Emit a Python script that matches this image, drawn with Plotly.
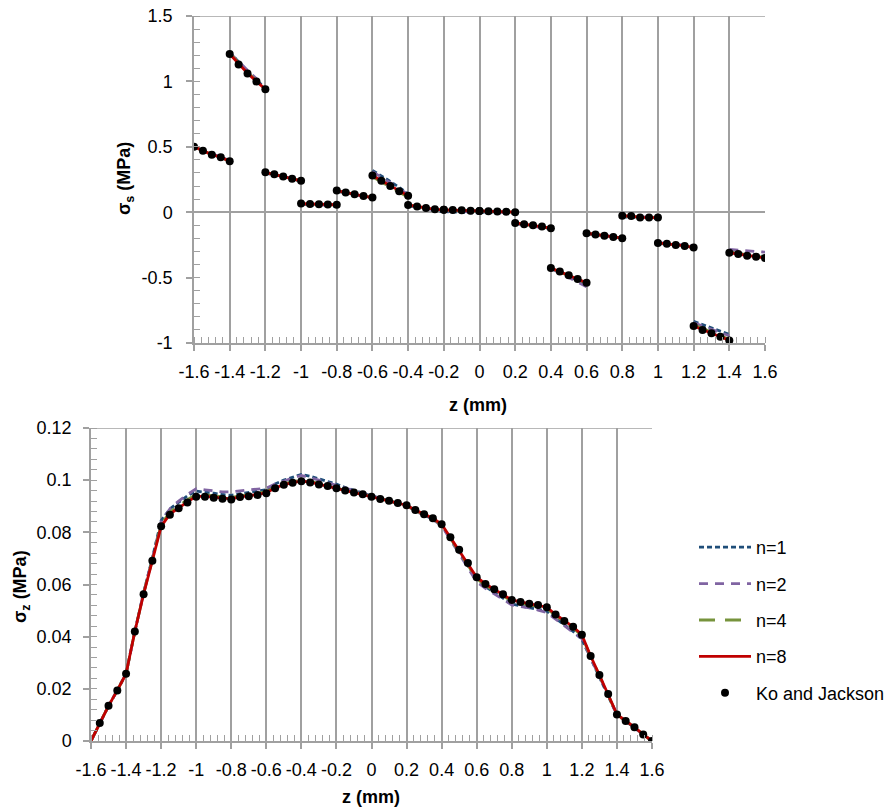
import numpy as np
import plotly.graph_objects as go

# ---------------- data ----------------
# top chart: 16 segments, 5 points each (z step 0.05)
seg_start = [-1.6, -1.4, -1.2, -1.0, -0.8, -0.6, -0.4, -0.2, 0.0, 0.2, 0.4, 0.6, 0.8, 1.0, 1.2, 1.4]
seg_offsets = [0.0, 0.05, 0.10, 0.15, 0.20]

ss_ko = [
    [0.50, 0.47, 0.44, 0.42, 0.39],
    [1.21, 1.13, 1.06, 1.00, 0.94],
    [0.305, 0.29, 0.272, 0.255, 0.24],
    [0.066, 0.063, 0.060, 0.058, 0.057],
    [0.165, 0.15, 0.138, 0.123, 0.112],
    [0.28, 0.24, 0.20, 0.16, 0.125],
    [0.056, 0.043, 0.033, 0.022, 0.018],
    [0.018, 0.016, 0.015, 0.012, 0.010],
    [0.010, 0.008, 0.005, 0.003, 0.0],
    [-0.082, -0.092, -0.100, -0.110, -0.122],
    [-0.426, -0.454, -0.482, -0.510, -0.539],
    [-0.161, -0.171, -0.181, -0.190, -0.199],
    [-0.028, -0.030, -0.040, -0.041, -0.041],
    [-0.235, -0.242, -0.250, -0.258, -0.270],
    [-0.870, -0.900, -0.926, -0.952, -0.980],
    [-0.310, -0.320, -0.332, -0.340, -0.350],
]
ss_n1 = [
    [0.50, 0.47, 0.445, 0.42, 0.39],
    [1.22, 1.15, 1.08, 1.01, 0.95],
    [0.30, 0.285, 0.27, 0.25, 0.235],
    [0.060, 0.056, 0.052, 0.048, 0.045],
    [0.16, 0.147, 0.135, 0.12, 0.11],
    [0.32, 0.28, 0.235, 0.19, 0.14],
    [0.05, 0.035, 0.022, 0.010, 0.005],
    [0.005, 0.0, -0.003, -0.005, -0.006],
    [0.0, -0.004, -0.006, -0.008, -0.010],
    [-0.085, -0.095, -0.105, -0.112, -0.125],
    [-0.43, -0.46, -0.49, -0.52, -0.55],
    [-0.165, -0.172, -0.182, -0.19, -0.20],
    [-0.035, -0.038, -0.045, -0.048, -0.050],
    [-0.238, -0.245, -0.252, -0.26, -0.272],
    [-0.835, -0.86, -0.885, -0.91, -0.935],
    [-0.30, -0.31, -0.32, -0.33, -0.34],
]
ss_n2 = [
    [0.50, 0.475, 0.445, 0.42, 0.395],
    [1.22, 1.15, 1.085, 1.02, 0.95],
    [0.305, 0.29, 0.272, 0.255, 0.24],
    [0.062, 0.058, 0.055, 0.052, 0.05],
    [0.162, 0.148, 0.136, 0.122, 0.112],
    [0.31, 0.27, 0.225, 0.18, 0.135],
    [0.052, 0.038, 0.028, 0.018, 0.012],
    [0.012, 0.008, 0.005, 0.002, 0.0],
    [0.005, 0.002, 0.0, -0.002, -0.004],
    [-0.085, -0.097, -0.107, -0.117, -0.130],
    [-0.43, -0.465, -0.50, -0.535, -0.57],
    [-0.16, -0.168, -0.178, -0.188, -0.196],
    [-0.03, -0.032, -0.038, -0.040, -0.042],
    [-0.232, -0.238, -0.245, -0.252, -0.262],
    [-0.845, -0.87, -0.895, -0.92, -0.945],
    [-0.285, -0.29, -0.295, -0.30, -0.305],
]
ss_n4 = [
    [0.50, 0.47, 0.44, 0.42, 0.39],
    [1.215, 1.14, 1.07, 1.005, 0.945],
    [0.305, 0.29, 0.272, 0.255, 0.24],
    [0.064, 0.061, 0.058, 0.056, 0.055],
    [0.163, 0.149, 0.137, 0.122, 0.111],
    [0.27, 0.23, 0.19, 0.15, 0.115],
    [0.055, 0.042, 0.032, 0.021, 0.016],
    [0.016, 0.014, 0.013, 0.010, 0.008],
    [0.008, 0.006, 0.004, 0.002, 0.0],
    [-0.083, -0.093, -0.101, -0.111, -0.123],
    [-0.428, -0.456, -0.485, -0.514, -0.542],
    [-0.161, -0.171, -0.181, -0.190, -0.199],
    [-0.029, -0.031, -0.040, -0.041, -0.042],
    [-0.235, -0.242, -0.250, -0.258, -0.270],
    [-0.860, -0.890, -0.918, -0.945, -0.972],
    [-0.305, -0.315, -0.328, -0.336, -0.346],
]
ss_n8 = [
    [0.50, 0.47, 0.44, 0.42, 0.39],
    [1.21, 1.135, 1.063, 1.00, 0.94],
    [0.305, 0.29, 0.272, 0.255, 0.24],
    [0.066, 0.063, 0.060, 0.058, 0.057],
    [0.165, 0.15, 0.138, 0.123, 0.112],
    [0.28, 0.24, 0.20, 0.16, 0.125],
    [0.056, 0.043, 0.033, 0.022, 0.018],
    [0.018, 0.016, 0.015, 0.012, 0.010],
    [0.010, 0.008, 0.005, 0.003, 0.0],
    [-0.082, -0.092, -0.100, -0.110, -0.122],
    [-0.426, -0.454, -0.482, -0.510, -0.539],
    [-0.161, -0.171, -0.181, -0.190, -0.199],
    [-0.028, -0.030, -0.040, -0.041, -0.041],
    [-0.235, -0.242, -0.250, -0.258, -0.270],
    [-0.870, -0.900, -0.926, -0.952, -0.980],
    [-0.310, -0.320, -0.332, -0.340, -0.350],
]

# bottom chart: z from -1.6 to 1.6, step 0.05 (65 points)
z_bot = np.round(np.linspace(-1.6, 1.6, 65), 2)
sz_ko = [None, 0.0069, 0.0135, 0.0194, 0.0258, 0.0420, 0.0563, 0.0691, 0.0823, 0.0867,
         0.0892, 0.0914, 0.0936, 0.0936, 0.0933, 0.0929, 0.0926, 0.0935, 0.0938, 0.0943,
         0.0950, 0.0969, 0.0982, 0.0990, 0.0996, 0.0991, 0.0983, 0.0978, 0.0969, 0.0960,
         0.0953, 0.0946, 0.0936, 0.0928, 0.0921, 0.0912, 0.0904, 0.0886, 0.0869, 0.0854,
         0.0831, 0.0781, 0.0733, 0.0682, 0.0628, 0.0602, 0.0582, 0.0563, 0.0541, 0.0533,
         0.0526, 0.0521, 0.0513, 0.0485, 0.0460, 0.0438, 0.0407, 0.0326, 0.0253, 0.0180,
         0.0102, 0.0077, 0.0053, 0.0025, 0.0]
sz_n8 = [0.0, 0.0069, 0.0135, 0.0194, 0.0258, 0.0420, 0.0563, 0.0691, 0.0823, 0.0870,
         0.0895, 0.0917, 0.0938, 0.0938, 0.0935, 0.0931, 0.0928, 0.0936, 0.0940, 0.0945,
         0.0952, 0.0970, 0.0983, 0.0991, 0.0997, 0.0992, 0.0984, 0.0978, 0.0969, 0.0960,
         0.0953, 0.0946, 0.0936, 0.0928, 0.0921, 0.0912, 0.0904, 0.0886, 0.0869, 0.0854,
         0.0831, 0.0781, 0.0733, 0.0682, 0.0628, 0.0602, 0.0582, 0.0563, 0.0541, 0.0533,
         0.0526, 0.0521, 0.0513, 0.0485, 0.0460, 0.0438, 0.0407, 0.0326, 0.0253, 0.0180,
         0.0102, 0.0077, 0.0053, 0.0025, 0.0]
sz_n4 = [0.0, 0.0069, 0.0135, 0.0194, 0.0258, 0.0420, 0.0565, 0.0695, 0.0830, 0.0878,
         0.0903, 0.0925, 0.0945, 0.0944, 0.0940, 0.0936, 0.0933, 0.0940, 0.0944, 0.0949,
         0.0956, 0.0974, 0.0987, 0.0995, 0.1001, 0.0996, 0.0987, 0.0980, 0.0971, 0.0961,
         0.0954, 0.0946, 0.0936, 0.0928, 0.0921, 0.0912, 0.0903, 0.0884, 0.0867, 0.0852,
         0.0829, 0.0778, 0.0728, 0.0676, 0.0622, 0.0597, 0.0577, 0.0558, 0.0536, 0.0528,
         0.0522, 0.0517, 0.0509, 0.0481, 0.0456, 0.0434, 0.0403, 0.0323, 0.0251, 0.0179,
         0.0101, 0.0077, 0.0053, 0.0025, 0.0]
sz_n2 = [0.0, 0.0069, 0.0135, 0.0194, 0.0258, 0.0420, 0.0568, 0.0700, 0.0840, 0.0890,
         0.0920, 0.0945, 0.0967, 0.0963, 0.0958, 0.0955, 0.0955, 0.0960, 0.0963, 0.0966,
         0.0969, 0.0985, 0.0998, 0.1008, 0.1018, 0.1010, 0.1000, 0.0990, 0.0980, 0.0968,
         0.0958, 0.0948, 0.0938, 0.0928, 0.0920, 0.0911, 0.0902, 0.0882, 0.0864, 0.0849,
         0.0826, 0.0773, 0.0720, 0.0662, 0.0610, 0.0585, 0.0565, 0.0545, 0.0522, 0.0515,
         0.0510, 0.0502, 0.0493, 0.0467, 0.0442, 0.0420, 0.0392, 0.0318, 0.0248, 0.0177,
         0.0100, 0.0076, 0.0052, 0.0025, 0.0]
sz_n1 = [0.0, 0.0069, 0.0135, 0.0194, 0.0258, 0.0420, 0.0568, 0.0702, 0.0845, 0.0890,
         0.0915, 0.0940, 0.0958, 0.0955, 0.0950, 0.0945, 0.0942, 0.0948, 0.0952, 0.0958,
         0.0963, 0.0985, 0.1000, 0.1012, 0.1022, 0.1015, 0.1005, 0.0995, 0.0985, 0.0972,
         0.0960, 0.0950, 0.0940, 0.0930, 0.0922, 0.0912, 0.0903, 0.0884, 0.0866, 0.0851,
         0.0828, 0.0776, 0.0724, 0.0670, 0.0620, 0.0592, 0.0570, 0.0545, 0.0525, 0.0518,
         0.0512, 0.0505, 0.0498, 0.0470, 0.0445, 0.0420, 0.0390, 0.0318, 0.0248, 0.0177,
         0.0100, 0.0076, 0.0052, 0.0025, 0.0]

x_ticks = [-1.6, -1.4, -1.2, -1.0, -0.8, -0.6, -0.4, -0.2, 0.0, 0.2, 0.4, 0.6, 0.8, 1.0, 1.2, 1.4, 1.6]
x_ticktext = ["-1.6", "-1.4", "-1.2", "-1", "-0.8", "-0.6", "-0.4", "-0.2", "0", "0.2", "0.4",
              "0.6", "0.8", "1", "1.2", "1.4", "1.6"]
y1_ticks = [-1.0, -0.5, 0.0, 0.5, 1.0, 1.5]
y1_ticktext = ["-1", "-0.5", "0", "0.5", "1", "1.5"]
y2_ticks = [0.0, 0.02, 0.04, 0.06, 0.08, 0.10, 0.12]
y2_ticktext = ["0", "0.02", "0.04", "0.06", "0.08", "0.1", "0.12"]

series_names = ["n=1", "n=2", "n=4", "n=8"]
series_colors = ["#1F4E79", "#8064A2", "#77933C", "#C00000"]
series_dash = ["5px,3px", "9px,7px", "16px,10px", "solid"]


def segmented(values):
    xs, ys = [], []
    for s, seg in zip(seg_start, values):
        for o, v in zip(seg_offsets, seg):
            xs.append(round(s + o, 3))
            ys.append(v)
        xs.append(None)
        ys.append(None)
    return xs, ys


FONT = "Liberation Sans"
fig = go.Figure()

top_series = [ss_n1, ss_n2, ss_n4, ss_n8]
for name, col, dash, vals in zip(series_names, series_colors, series_dash, top_series):
    xs, ys = segmented(vals)
    fig.add_trace(go.Scatter(x=xs, y=ys, mode="lines", name=name, showlegend=False,
                             line=dict(color=col, width=2.8, dash=dash),
                             xaxis="x", yaxis="y", connectgaps=False))
xs, ys = segmented(ss_ko)
fig.add_trace(go.Scatter(x=xs, y=ys, mode="markers", name="Ko and Jackson", showlegend=False,
                         marker=dict(color="black", size=8), xaxis="x", yaxis="y"))

bot_series = [sz_n1, sz_n2, sz_n4, sz_n8]
for i, (name, col, dash, vals) in enumerate(zip(series_names, series_colors, series_dash, bot_series)):
    fig.add_trace(go.Scatter(x=z_bot, y=vals, mode="lines", name=name, legendgroup=f"g{i}",
                             line=dict(color=col, width=2.8, dash=dash),
                             xaxis="x2", yaxis="y2"))
fig.add_trace(go.Scatter(x=z_bot, y=sz_ko, mode="markers", name="Ko and Jackson", legendgroup="g4",
                         marker=dict(color="black", size=8), xaxis="x2", yaxis="y2"))

W, H = 884, 810
def fx(px):
    return px / W
def fy(py):
    return 1 - py / H

grid = "#A0A0A0"
axis_common = dict(
    showline=True, linecolor=grid, linewidth=1.5, automargin=False,
    tickfont=dict(family=FONT, size=18, color="black"),
    ticks="outside", ticklen=6, tickcolor=grid, tickwidth=1.5,
)
xminor = dict(dtick=0.04, tick0=-1.6, ticks="inside", ticklen=6, tickcolor=grid,
              tickwidth=1.2, showgrid=False)

title_font = dict(family=FONT, size=18, color="black")

fig.update_layout(
    width=W, height=H, margin=dict(l=0, r=0, t=0, b=0, autoexpand=False),
    paper_bgcolor="white", plot_bgcolor="white",
    font=dict(family=FONT, size=18, color="black"),
    xaxis=dict(domain=[fx(194), fx(765)], anchor="y", range=[-1.6, 1.6],
               tickvals=x_ticks, ticktext=x_ticktext, showgrid=True, gridcolor=grid, gridwidth=1.5,
               zeroline=False, minor=xminor, ticklabelstandoff=6, **axis_common),
    yaxis=dict(domain=[fy(343), fy(16)], anchor="x", range=[-1.0, 1.5],
               tickvals=y1_ticks, ticktext=y1_ticktext, showgrid=False,
               zeroline=True, zerolinecolor=grid, zerolinewidth=1.5,
               minor=dict(dtick=0.1, tick0=0, ticks="inside", ticklen=6, tickcolor=grid,
                          tickwidth=1.2, showgrid=False),
               ticklabelstandoff=10, **axis_common),
    xaxis2=dict(domain=[fx(91), fx(652)], anchor="y2", range=[-1.6, 1.6],
                tickvals=x_ticks, ticktext=x_ticktext, showgrid=True, gridcolor=grid, gridwidth=1.5,
                zeroline=False, minor=xminor, ticklabelstandoff=6, **axis_common),
    yaxis2=dict(domain=[fy(741), fy(428)], anchor="x2", range=[0, 0.12],
                tickvals=y2_ticks, ticktext=y2_ticktext, showgrid=False, zeroline=False,
                minor=dict(dtick=0.004, tick0=0, ticks="inside", ticklen=6, tickcolor=grid,
                           tickwidth=1.2, showgrid=False),
                ticklabelstandoff=8, **axis_common),
    legend=dict(x=fx(694), y=fy(529), xanchor="left", yanchor="top",
                font=dict(family=FONT, size=18), traceorder="grouped", tracegroupgap=10,
                itemwidth=52, bgcolor="rgba(0,0,0,0)"),
    shapes=[
        dict(type="line", xref="x domain", yref="y", x0=0, x1=1, y0=1.5, y1=1.5,
             line=dict(color=grid, width=1.5)),
        dict(type="line", xref="x2 domain", yref="y2", x0=0, x1=1, y0=0.12, y1=0.12,
             line=dict(color=grid, width=1.5)),
    ],
    annotations=[
        dict(text="<b>σ<sub>s</sub> (MPa)</b>", xref="paper", yref="paper", x=fx(125), y=fy(179),
             xanchor="center", yanchor="middle", textangle=-90, showarrow=False, font=title_font),
        dict(text="<b>z (mm)</b>", xref="paper", yref="paper", x=fx(478), y=fy(405),
             xanchor="center", yanchor="middle", showarrow=False, font=title_font),
        dict(text="<b>σ<sub>z</sub> (MPa)</b>", xref="paper", yref="paper", x=fx(21), y=fy(587),
             xanchor="center", yanchor="middle", textangle=-90, showarrow=False, font=title_font),
        dict(text="<b>z (mm)</b>", xref="paper", yref="paper", x=fx(371), y=fy(797),
             xanchor="center", yanchor="middle", showarrow=False, font=title_font),
    ],
)

fig.write_html("out.html")
